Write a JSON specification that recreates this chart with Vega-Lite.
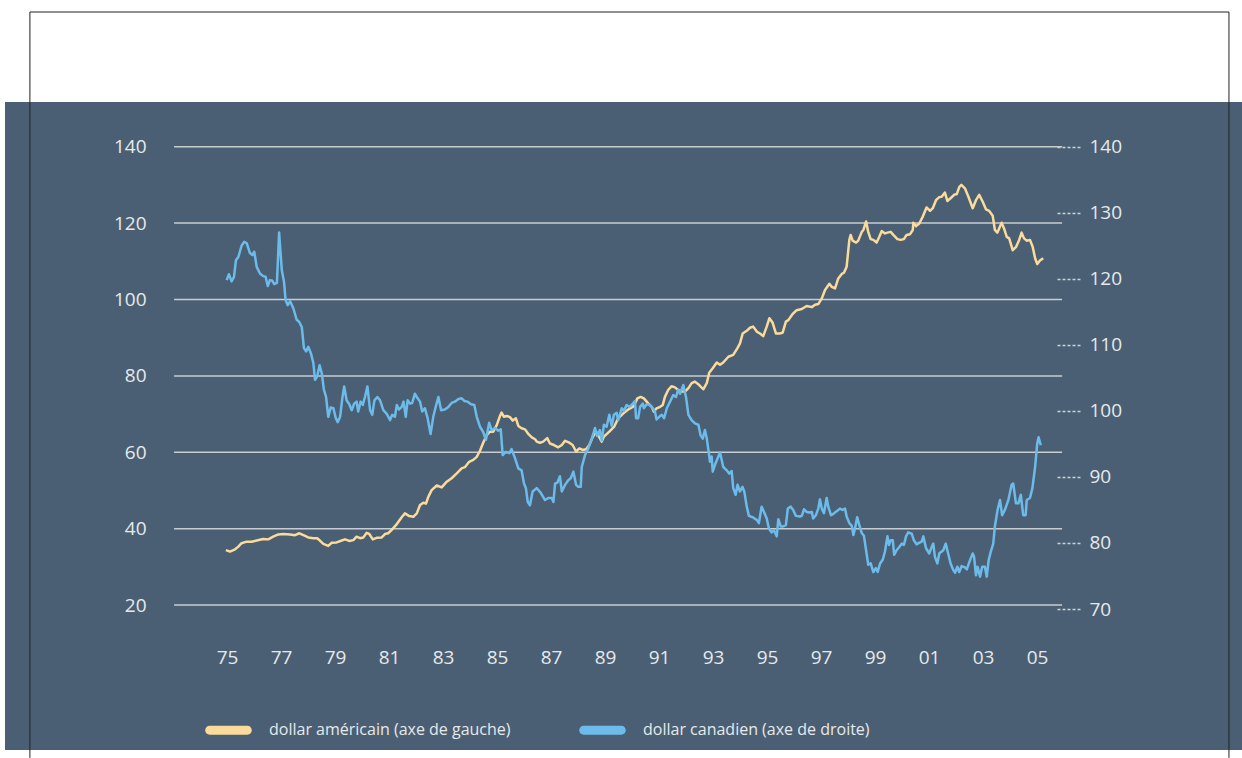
{
  "$schema": "https://vega.github.io/schema/vega-lite/v6.json",
  "width": 1237,
  "height": 648,
  "autosize": {"type": "none"},
  "padding": {"left": 5, "top": 102, "right": 0, "bottom": 8},
  "background": "white",
  "config": {
    "view": {"fill": "#4a5f73", "stroke": null},
    "axis": {"labelFont": "Open Sans", "labelFontSize": 19, "labelColor": "#e6e9ec", "title": null, "grid": false, "domain": false},
    "axisX": {"offset": -93, "ticks": false, "tickSize": 0, "labelPadding": 0, "labelBaseline": "middle", "labelFlush": false, "labelOverlap": false},
    "axisLeft": {"offset": -141, "ticks": false, "tickSize": 0, "labelPadding": 0},
    "axisRight": {"offset": -185, "ticks": true, "tickSize": 23, "tickDash": [3, 2], "tickColor": "#cdd3d8", "tickWidth": 1.5, "labelPadding": 9},
    "legend": {"labelFont": "Open Sans", "labelFontSize": 16, "labelColor": "#e6e9ec", "labelLimit": 0}
  },
  "datasets": {
    "grid": [{"v": 20}, {"v": 40}, {"v": 60}, {"v": 80}, {"v": 100}, {"v": 120}, {"v": 140}],
    "usd": [
      {"t": 1974.96, "v": 34.4}, {"t": 1975.11, "v": 34.0}, {"t": 1975.30, "v": 34.6}, {"t": 1975.42, "v": 35.3}, {"t": 1975.54, "v": 36.2}, {"t": 1975.73, "v": 36.6}, {"t": 1975.91, "v": 36.6}, {"t": 1976.10, "v": 36.9}, {"t": 1976.34, "v": 37.3}, {"t": 1976.53, "v": 37.2}, {"t": 1976.71, "v": 37.9}, {"t": 1976.90, "v": 38.5}, {"t": 1977.09, "v": 38.6}, {"t": 1977.33, "v": 38.5}, {"t": 1977.52, "v": 38.3}, {"t": 1977.68, "v": 38.8}, {"t": 1977.83, "v": 38.3}, {"t": 1978.01, "v": 37.7}, {"t": 1978.20, "v": 37.5}, {"t": 1978.34, "v": 37.5}, {"t": 1978.44, "v": 36.9}, {"t": 1978.57, "v": 36.0}, {"t": 1978.75, "v": 35.5}, {"t": 1978.88, "v": 36.3}, {"t": 1979.06, "v": 36.4}, {"t": 1979.25, "v": 36.9}, {"t": 1979.37, "v": 37.2}, {"t": 1979.53, "v": 36.8}, {"t": 1979.68, "v": 37.0}, {"t": 1979.80, "v": 37.9}, {"t": 1979.93, "v": 37.5}, {"t": 1980.05, "v": 37.7}, {"t": 1980.17, "v": 38.9}, {"t": 1980.27, "v": 38.6}, {"t": 1980.40, "v": 37.2}, {"t": 1980.54, "v": 37.6}, {"t": 1980.73, "v": 37.7}, {"t": 1980.85, "v": 38.6}, {"t": 1980.97, "v": 38.8}, {"t": 1981.10, "v": 39.7}, {"t": 1981.29, "v": 41.2}, {"t": 1981.47, "v": 43.0}, {"t": 1981.59, "v": 44.0}, {"t": 1981.75, "v": 43.3}, {"t": 1981.90, "v": 43.1}, {"t": 1982.03, "v": 44.0}, {"t": 1982.15, "v": 46.2}, {"t": 1982.27, "v": 46.8}, {"t": 1982.37, "v": 46.6}, {"t": 1982.46, "v": 48.4}, {"t": 1982.58, "v": 50.1}, {"t": 1982.77, "v": 51.3}, {"t": 1982.95, "v": 50.8}, {"t": 1983.14, "v": 52.3}, {"t": 1983.32, "v": 53.2}, {"t": 1983.51, "v": 54.5}, {"t": 1983.69, "v": 55.8}, {"t": 1983.81, "v": 56.1}, {"t": 1983.97, "v": 57.5}, {"t": 1984.12, "v": 58.0}, {"t": 1984.25, "v": 58.8}, {"t": 1984.37, "v": 60.4}, {"t": 1984.49, "v": 62.5}, {"t": 1984.62, "v": 64.5}, {"t": 1984.74, "v": 65.4}, {"t": 1984.86, "v": 65.4}, {"t": 1984.99, "v": 67.1}, {"t": 1985.11, "v": 69.5}, {"t": 1985.17, "v": 70.4}, {"t": 1985.26, "v": 69.3}, {"t": 1985.36, "v": 69.5}, {"t": 1985.48, "v": 69.2}, {"t": 1985.58, "v": 68.3}, {"t": 1985.70, "v": 68.9}, {"t": 1985.79, "v": 66.9}, {"t": 1985.91, "v": 66.3}, {"t": 1986.04, "v": 66.0}, {"t": 1986.16, "v": 64.8}, {"t": 1986.29, "v": 63.9}, {"t": 1986.41, "v": 63.4}, {"t": 1986.47, "v": 62.8}, {"t": 1986.59, "v": 62.5}, {"t": 1986.71, "v": 62.8}, {"t": 1986.86, "v": 63.7}, {"t": 1986.96, "v": 62.3}, {"t": 1987.11, "v": 61.9}, {"t": 1987.27, "v": 61.3}, {"t": 1987.40, "v": 61.9}, {"t": 1987.52, "v": 63.0}, {"t": 1987.68, "v": 62.5}, {"t": 1987.80, "v": 61.9}, {"t": 1987.93, "v": 60.2}, {"t": 1988.05, "v": 61.0}, {"t": 1988.17, "v": 60.6}, {"t": 1988.30, "v": 60.8}, {"t": 1988.42, "v": 61.9}, {"t": 1988.54, "v": 63.9}, {"t": 1988.67, "v": 65.4}, {"t": 1988.88, "v": 62.8}, {"t": 1988.96, "v": 64.1}, {"t": 1989.16, "v": 65.4}, {"t": 1989.34, "v": 66.7}, {"t": 1989.49, "v": 68.9}, {"t": 1989.68, "v": 70.2}, {"t": 1989.86, "v": 71.2}, {"t": 1990.03, "v": 71.9}, {"t": 1990.11, "v": 72.8}, {"t": 1990.20, "v": 74.1}, {"t": 1990.32, "v": 74.5}, {"t": 1990.44, "v": 74.1}, {"t": 1990.60, "v": 72.8}, {"t": 1990.73, "v": 71.9}, {"t": 1990.81, "v": 70.6}, {"t": 1990.91, "v": 71.5}, {"t": 1991.04, "v": 71.9}, {"t": 1991.14, "v": 72.4}, {"t": 1991.22, "v": 74.5}, {"t": 1991.34, "v": 76.3}, {"t": 1991.47, "v": 77.3}, {"t": 1991.59, "v": 77.0}, {"t": 1991.71, "v": 76.3}, {"t": 1991.84, "v": 75.9}, {"t": 1991.96, "v": 75.9}, {"t": 1992.09, "v": 76.8}, {"t": 1992.21, "v": 78.1}, {"t": 1992.33, "v": 78.5}, {"t": 1992.49, "v": 77.6}, {"t": 1992.64, "v": 76.5}, {"t": 1992.77, "v": 78.1}, {"t": 1992.86, "v": 80.8}, {"t": 1992.99, "v": 82.0}, {"t": 1993.14, "v": 83.5}, {"t": 1993.26, "v": 82.9}, {"t": 1993.38, "v": 83.5}, {"t": 1993.57, "v": 85.0}, {"t": 1993.75, "v": 85.5}, {"t": 1993.90, "v": 87.2}, {"t": 1994.00, "v": 88.5}, {"t": 1994.10, "v": 91.1}, {"t": 1994.25, "v": 91.8}, {"t": 1994.37, "v": 92.6}, {"t": 1994.49, "v": 92.9}, {"t": 1994.62, "v": 91.6}, {"t": 1994.74, "v": 91.1}, {"t": 1994.86, "v": 90.4}, {"t": 1994.99, "v": 92.9}, {"t": 1995.09, "v": 95.1}, {"t": 1995.21, "v": 93.9}, {"t": 1995.33, "v": 91.1}, {"t": 1995.46, "v": 91.1}, {"t": 1995.58, "v": 91.3}, {"t": 1995.70, "v": 94.2}, {"t": 1995.79, "v": 94.6}, {"t": 1995.95, "v": 96.2}, {"t": 1996.10, "v": 97.2}, {"t": 1996.29, "v": 97.5}, {"t": 1996.47, "v": 98.3}, {"t": 1996.66, "v": 98.0}, {"t": 1996.78, "v": 98.6}, {"t": 1996.90, "v": 98.8}, {"t": 1997.03, "v": 100.3}, {"t": 1997.15, "v": 102.5}, {"t": 1997.31, "v": 104.1}, {"t": 1997.40, "v": 103.3}, {"t": 1997.52, "v": 102.9}, {"t": 1997.64, "v": 105.5}, {"t": 1997.77, "v": 106.7}, {"t": 1997.85, "v": 107.0}, {"t": 1997.95, "v": 108.6}, {"t": 1998.05, "v": 115.6}, {"t": 1998.10, "v": 116.9}, {"t": 1998.17, "v": 115.4}, {"t": 1998.30, "v": 114.9}, {"t": 1998.38, "v": 115.4}, {"t": 1998.51, "v": 117.7}, {"t": 1998.57, "v": 118.2}, {"t": 1998.67, "v": 120.4}, {"t": 1998.75, "v": 117.7}, {"t": 1998.84, "v": 115.8}, {"t": 1998.94, "v": 115.6}, {"t": 1999.06, "v": 114.9}, {"t": 1999.16, "v": 116.4}, {"t": 1999.25, "v": 117.9}, {"t": 1999.37, "v": 117.3}, {"t": 1999.46, "v": 117.5}, {"t": 1999.58, "v": 117.7}, {"t": 1999.68, "v": 116.9}, {"t": 1999.83, "v": 115.8}, {"t": 1999.95, "v": 115.6}, {"t": 2000.07, "v": 115.8}, {"t": 2000.17, "v": 116.9}, {"t": 2000.30, "v": 117.1}, {"t": 2000.40, "v": 118.2}, {"t": 2000.42, "v": 120.1}, {"t": 2000.52, "v": 119.2}, {"t": 2000.64, "v": 119.9}, {"t": 2000.77, "v": 121.7}, {"t": 2000.91, "v": 124.1}, {"t": 2001.04, "v": 123.2}, {"t": 2001.14, "v": 123.9}, {"t": 2001.26, "v": 126.0}, {"t": 2001.38, "v": 126.8}, {"t": 2001.47, "v": 126.9}, {"t": 2001.59, "v": 128.0}, {"t": 2001.68, "v": 125.8}, {"t": 2001.80, "v": 126.5}, {"t": 2001.93, "v": 127.4}, {"t": 2002.03, "v": 127.6}, {"t": 2002.12, "v": 129.4}, {"t": 2002.20, "v": 130.0}, {"t": 2002.33, "v": 129.1}, {"t": 2002.46, "v": 126.9}, {"t": 2002.62, "v": 123.9}, {"t": 2002.74, "v": 126.0}, {"t": 2002.86, "v": 127.4}, {"t": 2002.99, "v": 125.6}, {"t": 2003.11, "v": 123.6}, {"t": 2003.23, "v": 123.2}, {"t": 2003.36, "v": 121.9}, {"t": 2003.44, "v": 118.2}, {"t": 2003.53, "v": 117.5}, {"t": 2003.63, "v": 119.1}, {"t": 2003.69, "v": 120.1}, {"t": 2003.78, "v": 118.6}, {"t": 2003.88, "v": 116.4}, {"t": 2003.97, "v": 116.0}, {"t": 2004.10, "v": 112.9}, {"t": 2004.22, "v": 113.7}, {"t": 2004.34, "v": 115.6}, {"t": 2004.43, "v": 117.5}, {"t": 2004.52, "v": 116.0}, {"t": 2004.62, "v": 115.4}, {"t": 2004.74, "v": 115.6}, {"t": 2004.84, "v": 113.8}, {"t": 2004.93, "v": 110.8}, {"t": 2005.01, "v": 109.3}, {"t": 2005.11, "v": 110.2}, {"t": 2005.23, "v": 110.8}
    ],
    "cad": [
      {"t": 1974.99, "v": 119.8}, {"t": 1975.07, "v": 120.7}, {"t": 1975.17, "v": 119.6}, {"t": 1975.26, "v": 120.3}, {"t": 1975.33, "v": 122.8}, {"t": 1975.42, "v": 123.3}, {"t": 1975.54, "v": 125.0}, {"t": 1975.64, "v": 125.6}, {"t": 1975.73, "v": 125.4}, {"t": 1975.85, "v": 123.9}, {"t": 1975.94, "v": 123.6}, {"t": 1976.01, "v": 124.1}, {"t": 1976.10, "v": 121.8}, {"t": 1976.22, "v": 120.8}, {"t": 1976.34, "v": 120.4}, {"t": 1976.43, "v": 120.3}, {"t": 1976.51, "v": 118.9}, {"t": 1976.59, "v": 119.8}, {"t": 1976.68, "v": 119.7}, {"t": 1976.75, "v": 119.2}, {"t": 1976.85, "v": 119.4}, {"t": 1976.93, "v": 127.0}, {"t": 1977.03, "v": 121.3}, {"t": 1977.11, "v": 119.6}, {"t": 1977.17, "v": 116.8}, {"t": 1977.25, "v": 116.0}, {"t": 1977.34, "v": 116.6}, {"t": 1977.46, "v": 115.5}, {"t": 1977.58, "v": 113.8}, {"t": 1977.67, "v": 113.5}, {"t": 1977.77, "v": 112.7}, {"t": 1977.85, "v": 109.5}, {"t": 1977.93, "v": 109.0}, {"t": 1978.01, "v": 109.7}, {"t": 1978.11, "v": 108.7}, {"t": 1978.20, "v": 107.2}, {"t": 1978.26, "v": 104.7}, {"t": 1978.34, "v": 105.2}, {"t": 1978.43, "v": 106.9}, {"t": 1978.51, "v": 105.7}, {"t": 1978.59, "v": 103.2}, {"t": 1978.67, "v": 102.1}, {"t": 1978.75, "v": 99.1}, {"t": 1978.84, "v": 100.5}, {"t": 1978.94, "v": 100.4}, {"t": 1979.03, "v": 98.9}, {"t": 1979.10, "v": 98.3}, {"t": 1979.19, "v": 99.1}, {"t": 1979.27, "v": 101.9}, {"t": 1979.34, "v": 103.7}, {"t": 1979.43, "v": 101.6}, {"t": 1979.53, "v": 101.0}, {"t": 1979.62, "v": 100.1}, {"t": 1979.71, "v": 101.1}, {"t": 1979.80, "v": 101.4}, {"t": 1979.86, "v": 99.9}, {"t": 1979.95, "v": 101.4}, {"t": 1980.03, "v": 100.9}, {"t": 1980.11, "v": 102.1}, {"t": 1980.20, "v": 103.7}, {"t": 1980.30, "v": 100.1}, {"t": 1980.38, "v": 99.4}, {"t": 1980.46, "v": 101.6}, {"t": 1980.57, "v": 102.1}, {"t": 1980.67, "v": 101.6}, {"t": 1980.79, "v": 100.1}, {"t": 1980.91, "v": 99.6}, {"t": 1981.04, "v": 98.6}, {"t": 1981.12, "v": 99.4}, {"t": 1981.22, "v": 99.1}, {"t": 1981.29, "v": 100.9}, {"t": 1981.37, "v": 100.2}, {"t": 1981.47, "v": 100.6}, {"t": 1981.54, "v": 101.4}, {"t": 1981.62, "v": 99.1}, {"t": 1981.69, "v": 101.6}, {"t": 1981.78, "v": 101.1}, {"t": 1981.86, "v": 101.2}, {"t": 1981.96, "v": 102.6}, {"t": 1982.06, "v": 101.9}, {"t": 1982.15, "v": 101.4}, {"t": 1982.23, "v": 99.9}, {"t": 1982.33, "v": 100.4}, {"t": 1982.43, "v": 98.9}, {"t": 1982.54, "v": 96.5}, {"t": 1982.64, "v": 99.1}, {"t": 1982.73, "v": 100.6}, {"t": 1982.83, "v": 102.1}, {"t": 1982.93, "v": 100.1}, {"t": 1983.07, "v": 100.2}, {"t": 1983.20, "v": 100.6}, {"t": 1983.32, "v": 101.2}, {"t": 1983.44, "v": 101.4}, {"t": 1983.57, "v": 101.8}, {"t": 1983.69, "v": 101.9}, {"t": 1983.79, "v": 101.5}, {"t": 1983.91, "v": 101.4}, {"t": 1984.04, "v": 101.0}, {"t": 1984.16, "v": 100.9}, {"t": 1984.25, "v": 99.1}, {"t": 1984.37, "v": 97.6}, {"t": 1984.49, "v": 96.8}, {"t": 1984.59, "v": 95.6}, {"t": 1984.71, "v": 98.2}, {"t": 1984.80, "v": 97.1}, {"t": 1984.93, "v": 97.4}, {"t": 1985.05, "v": 97.0}, {"t": 1985.14, "v": 97.2}, {"t": 1985.21, "v": 93.3}, {"t": 1985.33, "v": 93.8}, {"t": 1985.46, "v": 93.6}, {"t": 1985.54, "v": 94.2}, {"t": 1985.67, "v": 92.8}, {"t": 1985.79, "v": 91.3}, {"t": 1985.91, "v": 91.0}, {"t": 1986.00, "v": 89.0}, {"t": 1986.07, "v": 88.3}, {"t": 1986.14, "v": 86.2}, {"t": 1986.22, "v": 85.7}, {"t": 1986.32, "v": 87.8}, {"t": 1986.47, "v": 88.3}, {"t": 1986.62, "v": 87.6}, {"t": 1986.78, "v": 86.5}, {"t": 1986.90, "v": 86.8}, {"t": 1987.03, "v": 86.8}, {"t": 1987.09, "v": 86.2}, {"t": 1987.15, "v": 89.0}, {"t": 1987.23, "v": 89.1}, {"t": 1987.33, "v": 90.1}, {"t": 1987.40, "v": 87.8}, {"t": 1987.52, "v": 88.8}, {"t": 1987.64, "v": 89.5}, {"t": 1987.73, "v": 89.8}, {"t": 1987.83, "v": 90.8}, {"t": 1987.93, "v": 88.8}, {"t": 1988.01, "v": 88.5}, {"t": 1988.10, "v": 88.5}, {"t": 1988.14, "v": 91.5}, {"t": 1988.26, "v": 93.3}, {"t": 1988.38, "v": 94.3}, {"t": 1988.51, "v": 95.8}, {"t": 1988.63, "v": 97.4}, {"t": 1988.71, "v": 96.2}, {"t": 1988.81, "v": 97.1}, {"t": 1988.88, "v": 95.5}, {"t": 1988.96, "v": 97.9}, {"t": 1989.06, "v": 97.6}, {"t": 1989.16, "v": 99.4}, {"t": 1989.25, "v": 97.7}, {"t": 1989.33, "v": 99.4}, {"t": 1989.43, "v": 99.7}, {"t": 1989.49, "v": 98.6}, {"t": 1989.62, "v": 100.4}, {"t": 1989.70, "v": 100.0}, {"t": 1989.80, "v": 100.9}, {"t": 1989.90, "v": 100.6}, {"t": 1990.03, "v": 101.1}, {"t": 1990.11, "v": 101.5}, {"t": 1990.15, "v": 98.9}, {"t": 1990.23, "v": 98.9}, {"t": 1990.30, "v": 100.6}, {"t": 1990.40, "v": 101.1}, {"t": 1990.44, "v": 100.4}, {"t": 1990.54, "v": 101.0}, {"t": 1990.67, "v": 100.9}, {"t": 1990.77, "v": 100.4}, {"t": 1990.85, "v": 99.9}, {"t": 1990.91, "v": 98.7}, {"t": 1991.01, "v": 99.1}, {"t": 1991.10, "v": 99.4}, {"t": 1991.19, "v": 98.9}, {"t": 1991.29, "v": 100.4}, {"t": 1991.41, "v": 101.4}, {"t": 1991.53, "v": 102.4}, {"t": 1991.63, "v": 102.1}, {"t": 1991.71, "v": 103.2}, {"t": 1991.78, "v": 102.6}, {"t": 1991.90, "v": 103.9}, {"t": 1992.00, "v": 102.1}, {"t": 1992.09, "v": 99.4}, {"t": 1992.21, "v": 98.6}, {"t": 1992.33, "v": 98.1}, {"t": 1992.46, "v": 97.9}, {"t": 1992.54, "v": 96.3}, {"t": 1992.62, "v": 95.8}, {"t": 1992.70, "v": 97.1}, {"t": 1992.77, "v": 95.8}, {"t": 1992.83, "v": 94.1}, {"t": 1992.89, "v": 92.3}, {"t": 1992.95, "v": 93.1}, {"t": 1992.99, "v": 90.8}, {"t": 1993.07, "v": 91.8}, {"t": 1993.26, "v": 93.7}, {"t": 1993.38, "v": 91.5}, {"t": 1993.51, "v": 91.0}, {"t": 1993.60, "v": 90.5}, {"t": 1993.69, "v": 90.9}, {"t": 1993.75, "v": 88.3}, {"t": 1993.84, "v": 87.3}, {"t": 1993.91, "v": 88.8}, {"t": 1994.00, "v": 87.8}, {"t": 1994.09, "v": 88.5}, {"t": 1994.16, "v": 87.8}, {"t": 1994.25, "v": 85.5}, {"t": 1994.33, "v": 84.1}, {"t": 1994.47, "v": 83.9}, {"t": 1994.62, "v": 83.5}, {"t": 1994.70, "v": 83.0}, {"t": 1994.80, "v": 85.5}, {"t": 1994.89, "v": 84.7}, {"t": 1994.99, "v": 83.7}, {"t": 1995.07, "v": 82.2}, {"t": 1995.17, "v": 81.6}, {"t": 1995.26, "v": 81.9}, {"t": 1995.36, "v": 81.0}, {"t": 1995.42, "v": 83.6}, {"t": 1995.51, "v": 82.5}, {"t": 1995.60, "v": 82.5}, {"t": 1995.70, "v": 82.7}, {"t": 1995.77, "v": 85.2}, {"t": 1995.88, "v": 85.5}, {"t": 1995.97, "v": 85.0}, {"t": 1996.07, "v": 84.1}, {"t": 1996.22, "v": 84.0}, {"t": 1996.29, "v": 84.1}, {"t": 1996.37, "v": 85.1}, {"t": 1996.47, "v": 84.7}, {"t": 1996.57, "v": 84.6}, {"t": 1996.66, "v": 84.7}, {"t": 1996.71, "v": 83.7}, {"t": 1996.81, "v": 84.2}, {"t": 1996.90, "v": 85.2}, {"t": 1996.96, "v": 86.6}, {"t": 1997.03, "v": 85.2}, {"t": 1997.11, "v": 84.5}, {"t": 1997.21, "v": 86.8}, {"t": 1997.27, "v": 85.5}, {"t": 1997.37, "v": 84.2}, {"t": 1997.46, "v": 84.4}, {"t": 1997.54, "v": 84.7}, {"t": 1997.64, "v": 85.0}, {"t": 1997.70, "v": 85.2}, {"t": 1997.80, "v": 85.0}, {"t": 1997.89, "v": 85.2}, {"t": 1997.95, "v": 84.0}, {"t": 1998.05, "v": 83.0}, {"t": 1998.14, "v": 82.6}, {"t": 1998.20, "v": 81.2}, {"t": 1998.26, "v": 82.2}, {"t": 1998.34, "v": 83.9}, {"t": 1998.42, "v": 82.7}, {"t": 1998.51, "v": 81.5}, {"t": 1998.59, "v": 81.1}, {"t": 1998.67, "v": 78.9}, {"t": 1998.75, "v": 76.7}, {"t": 1998.84, "v": 76.9}, {"t": 1998.94, "v": 75.6}, {"t": 1999.03, "v": 76.2}, {"t": 1999.10, "v": 75.6}, {"t": 1999.19, "v": 76.9}, {"t": 1999.29, "v": 77.5}, {"t": 1999.37, "v": 78.7}, {"t": 1999.46, "v": 81.0}, {"t": 1999.52, "v": 79.7}, {"t": 1999.58, "v": 80.4}, {"t": 1999.66, "v": 80.4}, {"t": 1999.71, "v": 78.2}, {"t": 1999.80, "v": 78.9}, {"t": 1999.90, "v": 79.4}, {"t": 1999.99, "v": 79.9}, {"t": 2000.07, "v": 79.7}, {"t": 2000.15, "v": 81.0}, {"t": 2000.23, "v": 81.6}, {"t": 2000.36, "v": 81.4}, {"t": 2000.44, "v": 80.4}, {"t": 2000.54, "v": 79.8}, {"t": 2000.63, "v": 80.0}, {"t": 2000.73, "v": 80.2}, {"t": 2000.79, "v": 81.0}, {"t": 2000.89, "v": 79.2}, {"t": 2001.01, "v": 78.4}, {"t": 2001.10, "v": 79.4}, {"t": 2001.16, "v": 79.9}, {"t": 2001.22, "v": 77.9}, {"t": 2001.31, "v": 76.9}, {"t": 2001.38, "v": 78.4}, {"t": 2001.47, "v": 78.7}, {"t": 2001.53, "v": 78.9}, {"t": 2001.62, "v": 79.9}, {"t": 2001.71, "v": 78.4}, {"t": 2001.80, "v": 76.9}, {"t": 2001.90, "v": 75.9}, {"t": 2001.97, "v": 75.5}, {"t": 2002.05, "v": 76.4}, {"t": 2002.12, "v": 75.6}, {"t": 2002.21, "v": 76.5}, {"t": 2002.33, "v": 76.3}, {"t": 2002.40, "v": 76.0}, {"t": 2002.52, "v": 77.4}, {"t": 2002.62, "v": 78.4}, {"t": 2002.67, "v": 77.9}, {"t": 2002.74, "v": 75.1}, {"t": 2002.80, "v": 76.4}, {"t": 2002.89, "v": 74.9}, {"t": 2002.97, "v": 76.4}, {"t": 2003.07, "v": 76.4}, {"t": 2003.14, "v": 74.9}, {"t": 2003.21, "v": 77.4}, {"t": 2003.29, "v": 78.7}, {"t": 2003.38, "v": 79.9}, {"t": 2003.44, "v": 82.5}, {"t": 2003.54, "v": 85.0}, {"t": 2003.63, "v": 86.5}, {"t": 2003.71, "v": 84.2}, {"t": 2003.81, "v": 85.0}, {"t": 2003.94, "v": 86.5}, {"t": 2004.06, "v": 88.8}, {"t": 2004.12, "v": 89.0}, {"t": 2004.22, "v": 86.0}, {"t": 2004.31, "v": 86.0}, {"t": 2004.40, "v": 87.3}, {"t": 2004.49, "v": 84.2}, {"t": 2004.58, "v": 84.2}, {"t": 2004.62, "v": 86.5}, {"t": 2004.74, "v": 86.8}, {"t": 2004.83, "v": 88.3}, {"t": 2004.93, "v": 91.5}, {"t": 2005.01, "v": 95.1}, {"t": 2005.06, "v": 96.0}, {"t": 2005.14, "v": 94.8}
    ]
  },
  "layer": [
    {
      "layer": [
        {
          "data": {"values": [{}]},
          "mark": {"type": "rule", "color": "#222222", "strokeWidth": 1},
          "encoding": {
            "x": {"datum": 1967.7, "type": "quantitative", "scale": {"domain": [1966.778, 2012.593]}, "axis": {"values": [1975, 1977, 1979, 1981, 1983, 1985, 1987, 1989, 1991, 1993, 1995, 1997, 1999, 2001, 2003, 2005], "labelExpr": "substring(format(datum.value, 'd'), 2, 4)"}},
            "x2": {"datum": 2012.11},
            "y": {"datum": 175.26, "type": "quantitative", "scale": {"domain": [-17.94, 151.7]}, "axis": {"orient": "left", "values": [20, 40, 60, 80, 100, 120, 140]}}
          }
        },
        {
          "data": {"values": [{}]},
          "mark": {"type": "rule", "color": "#222222", "strokeWidth": 1},
          "encoding": {
            "x": {"datum": 1967.7, "type": "quantitative", "scale": {"domain": [1966.778, 2012.593]}, "axis": {"values": [1975, 1977, 1979, 1981, 1983, 1985, 1987, 1989, 1991, 1993, 1995, 1997, 1999, 2001, 2003, 2005], "labelExpr": "substring(format(datum.value, 'd'), 2, 4)"}},
            "y": {"datum": 175.26, "type": "quantitative", "scale": {"domain": [-17.94, 151.7]}, "axis": {"orient": "left", "values": [20, 40, 60, 80, 100, 120, 140]}},
            "y2": {"datum": -19.99}
          }
        },
        {
          "data": {"values": [{}]},
          "mark": {"type": "rule", "color": "#222222", "strokeWidth": 1},
          "encoding": {
            "x": {"datum": 2012.11, "type": "quantitative", "scale": {"domain": [1966.778, 2012.593]}, "axis": {"values": [1975, 1977, 1979, 1981, 1983, 1985, 1987, 1989, 1991, 1993, 1995, 1997, 1999, 2001, 2003, 2005], "labelExpr": "substring(format(datum.value, 'd'), 2, 4)"}},
            "y": {"datum": 175.26, "type": "quantitative", "scale": {"domain": [-17.94, 151.7]}, "axis": {"orient": "left", "values": [20, 40, 60, 80, 100, 120, 140]}},
            "y2": {"datum": -19.99}
          }
        },
        {
          "data": {"name": "grid"},
          "mark": {"type": "rule", "color": "#c8cdd2", "strokeWidth": 1.5},
          "encoding": {
            "x": {"datum": 1973.04, "type": "quantitative", "scale": {"domain": [1966.778, 2012.593]}, "axis": {"values": [1975, 1977, 1979, 1981, 1983, 1985, 1987, 1989, 1991, 1993, 1995, 1997, 1999, 2001, 2003, 2005], "labelExpr": "substring(format(datum.value, 'd'), 2, 4)"}},
            "x2": {"datum": 2005.93},
            "y": {"field": "v", "type": "quantitative", "scale": {"domain": [-17.94, 151.7]}, "axis": {"orient": "left", "values": [20, 40, 60, 80, 100, 120, 140]}}
          }
        },
        {
          "data": {"name": "usd"},
          "mark": {"type": "line", "strokeWidth": 2.5, "strokeJoin": "round"},
          "encoding": {
            "x": {"field": "t", "type": "quantitative", "scale": {"domain": [1966.778, 2012.593]}, "axis": {"values": [1975, 1977, 1979, 1981, 1983, 1985, 1987, 1989, 1991, 1993, 1995, 1997, 1999, 2001, 2003, 2005], "labelExpr": "substring(format(datum.value, 'd'), 2, 4)"}},
            "y": {"field": "v", "type": "quantitative", "scale": {"domain": [-17.94, 151.7]}, "axis": {"orient": "left", "values": [20, 40, 60, 80, 100, 120, 140]}},
            "color": {
              "datum": "dollar américain (axe de gauche)",
              "type": "nominal",
              "scale": {"domain": ["dollar américain (axe de gauche)", "dollar canadien (axe de droite)"], "range": ["#fbdb9c", "#6cbbea"]},
              "legend": {
                "orient": "none", "legendX": 200, "legendY": 604.5, "direction": "horizontal", "title": null, "padding": 0,
                "symbolType": "M-0.8,-0.19L0.8,-0.19A0.19,0.19,0,0,1,0.8,0.19L-0.8,0.19A0.19,0.19,0,0,1,-0.8,-0.19Z",
                "symbolSize": 2209, "symbolStrokeWidth": 0, "labelOffset": 17, "columnPadding": 68, "labelLimit": 0,
                "encode": {"symbols": {"update": {"fill": {"scale": "color", "field": "value"}, "stroke": {"value": "transparent"}, "strokeWidth": {"value": 0}}}}
              }
            }
          }
        }
      ]
    },
    {
      "data": {"name": "cad"},
      "mark": {"type": "line", "strokeWidth": 2.5, "strokeJoin": "round"},
      "encoding": {
        "x": {"field": "t", "type": "quantitative", "scale": {"domain": [1966.778, 2012.593]}, "axis": {"values": [1975, 1977, 1979, 1981, 1983, 1985, 1987, 1989, 1991, 1993, 1995, 1997, 1999, 2001, 2003, 2005], "labelExpr": "substring(format(datum.value, 'd'), 2, 4)"}},
        "y": {"field": "v", "type": "quantitative", "scale": {"domain": [48.65, 146.77]}, "axis": {"orient": "right", "values": [70, 80, 90, 100, 110, 120, 130, 140]}},
        "color": {
          "datum": "dollar canadien (axe de droite)",
          "type": "nominal",
          "scale": {"domain": ["dollar américain (axe de gauche)", "dollar canadien (axe de droite)"], "range": ["#fbdb9c", "#6cbbea"]},
          "legend": {
            "orient": "none", "legendX": 200, "legendY": 604.5, "direction": "horizontal", "title": null, "padding": 0,
            "symbolType": "M-0.8,-0.19L0.8,-0.19A0.19,0.19,0,0,1,0.8,0.19L-0.8,0.19A0.19,0.19,0,0,1,-0.8,-0.19Z",
            "symbolSize": 2209, "symbolStrokeWidth": 0, "labelOffset": 17, "columnPadding": 68, "labelLimit": 0,
            "encode": {"symbols": {"update": {"fill": {"scale": "color", "field": "value"}, "stroke": {"value": "transparent"}, "strokeWidth": {"value": 0}}}}
          }
        }
      }
    }
  ],
  "resolve": {"scale": {"y": "independent"}}
}
